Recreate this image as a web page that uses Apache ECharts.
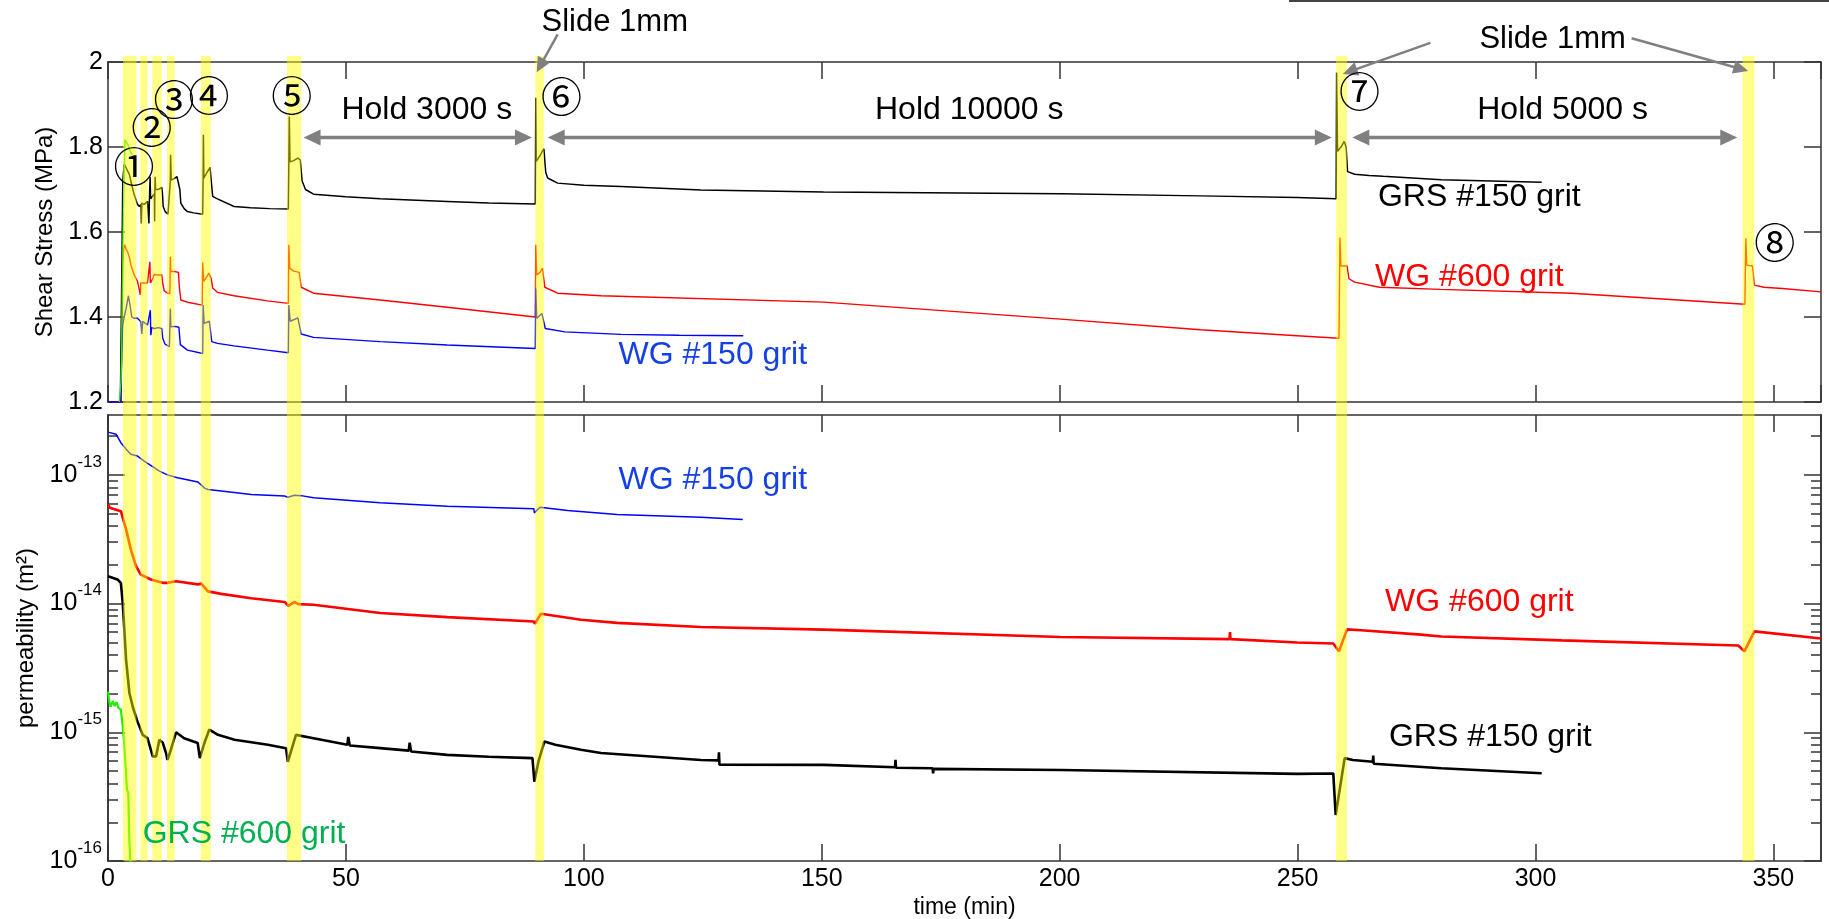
<!DOCTYPE html>
<html><head><meta charset="utf-8">
<script src="https://cdn.jsdelivr.net/npm/echarts@6.0.0/dist/echarts.min.js"></script>
<style>html,body{margin:0;padding:0;background:#fff;}#c{width:1829px;height:919px;}</style>
</head><body><div id="c"></div>
<script>
// ---------------- DATA (time in min) ----------------
const slideBands = [[3.15,6.0],[6.8,8.3],[9.3,11.3],[12.4,14.0],[19.5,21.6],[37.6,40.6],[89.8,91.6],[258.1,260.4],[343.5,346.0]];

// Shear stress (MPa)
const grs150Stress = [[0,1.2],[2.6,1.2],[2.9,1.5],[3.1,1.72],[3.4,1.76],[3.8,1.758],[4.5,1.735],[5.0,1.71],[5.5,1.688],[6.2,1.665],[6.6,1.66],[6.9,1.665],[7.0,1.62],[7.1,1.668],[7.6,1.665],[8.3,1.672],[8.6,1.62],[8.7,1.675],[8.85,1.73],[8.95,1.678],[9.4,1.685],[9.75,1.69],[9.8,1.625],[9.85,1.70],[9.9,1.73],[10.0,1.70],[10.6,1.70],[11.3,1.705],[11.45,1.69],[11.6,1.66],[12.0,1.648],[12.6,1.642],[12.95,1.638],[13.1,1.72],[13.15,1.782],[13.3,1.722],[13.8,1.725],[14.5,1.73],[14.9,1.731],[15.1,1.70],[15.3,1.668],[16.0,1.655],[16.7,1.648],[18.0,1.645],[19.9,1.642],[20.0,1.73],[20.05,1.829],[20.15,1.727],[20.8,1.74],[21.45,1.752],[21.7,1.72],[22.0,1.684],[23.0,1.678],[26.5,1.66],[30.0,1.657],[34.0,1.655],[37.9,1.654],[38.0,1.76],[38.1,1.872],[38.25,1.765],[39.0,1.768],[39.9,1.774],[40.4,1.77],[40.8,1.72],[41.5,1.70],[43.2,1.689],[50,1.683],[57.2,1.678],[71.3,1.672],[80,1.668],[89.8,1.666],[89.9,1.916],[90.0,1.766],[90.8,1.78],[91.6,1.796],[92.0,1.74],[92.4,1.727],[94.5,1.715],[100,1.71],[107.8,1.707],[124.6,1.699],[150.4,1.694],[200.2,1.69],[229.6,1.685],[249.9,1.681],[258.1,1.678],[258.2,1.975],[258.4,1.79],[259.2,1.801],[259.8,1.813],[260.2,1.80],[260.5,1.742],[262,1.736],[265,1.733],[268,1.731],[280.2,1.723],[301.3,1.717]];
const wg600Stress = [[0,1.2],[2.7,1.2],[2.9,1.35],[3.1,1.52],[3.3,1.56],[3.5,1.57],[3.8,1.56],[4.1,1.554],[4.5,1.54],[4.8,1.523],[5.5,1.499],[6.2,1.484],[6.6,1.48],[6.8,1.452],[6.9,1.48],[7.5,1.48],[8.3,1.48],[8.6,1.478],[8.8,1.53],[8.9,1.48],[9.4,1.49],[9.7,1.50],[10.5,1.499],[11.3,1.499],[11.5,1.48],[11.8,1.462],[12.5,1.456],[13.0,1.455],[13.1,1.542],[13.2,1.507],[14.0,1.507],[14.8,1.505],[15.0,1.47],[15.3,1.44],[17,1.434],[19.8,1.428],[19.9,1.528],[20.1,1.484],[20.5,1.49],[21.2,1.503],[21.7,1.49],[22.0,1.468],[23.0,1.458],[26.5,1.45],[33.5,1.438],[37.9,1.432],[38.0,1.57],[38.2,1.515],[39.0,1.508],[39.4,1.512],[40.2,1.505],[40.6,1.47],[43.2,1.456],[57.2,1.44],[71.3,1.423],[89.8,1.40],[89.9,1.57],[90.1,1.499],[90.8,1.505],[91.3,1.515],[91.8,1.47],[94.5,1.456],[103.6,1.45],[150.4,1.435],[200.2,1.395],[229.6,1.37],[249.9,1.356],[258.7,1.35],[258.9,1.587],[259.1,1.52],[259.5,1.522],[260.4,1.52],[260.8,1.49],[262,1.482],[267.2,1.47],[280,1.465],[307.6,1.456],[330,1.44],[344.0,1.43],[344.2,1.585],[344.4,1.522],[345.6,1.52],[346.0,1.475],[348,1.47],[351.9,1.467],[360,1.459]];
const wg150Stress = [[0,1.2],[2.7,1.2],[2.9,1.32],[3.1,1.38],[3.4,1.40],[3.8,1.42],[4.3,1.45],[4.6,1.43],[5.0,1.40],[5.5,1.397],[6.2,1.397],[6.9,1.389],[7.1,1.36],[7.3,1.39],[8.3,1.381],[8.6,1.38],[8.9,1.416],[9.0,1.357],[9.2,1.375],[9.7,1.373],[10.6,1.375],[11.3,1.373],[11.5,1.35],[12.0,1.336],[12.9,1.33],[13.1,1.42],[13.2,1.377],[14.0,1.378],[14.9,1.376],[15.2,1.335],[16.7,1.322],[19.9,1.314],[20.0,1.428],[20.2,1.385],[21.3,1.39],[21.8,1.342],[23.0,1.338],[26.5,1.332],[33.5,1.322],[37.9,1.316],[38.0,1.428],[38.3,1.39],[39.9,1.398],[40.3,1.40],[40.6,1.36],[43.2,1.352],[57.2,1.342],[71.3,1.334],[89.8,1.326],[89.9,1.467],[90.1,1.397],[91.2,1.408],[91.6,1.407],[91.9,1.373],[96,1.365],[107.8,1.359],[120,1.357],[133.5,1.356]];
const grs600Stress = [[2.38,1.2],[2.73,1.247],[2.87,1.31],[3.08,1.53],[3.29,1.68],[3.57,1.817],[4.13,1.806],[4.83,1.786],[5.18,1.782]];

// Permeability (m^2)
const wg150Perm = [[0,2.15e-13],[1.7,2.07e-13],[2.7,1.78e-13],[3.8,1.585e-13],[4.8,1.445e-13],[6.2,1.40e-13],[7.6,1.28e-13],[9.7,1.14e-13],[10.8,1.07e-13],[12.5,1.0e-13],[14.6,9.5e-14],[18.9,8.8e-14],[20.3,7.9e-14],[21.0,7.7e-14],[23.8,7.5e-14],[30.1,7.05e-14],[37.1,6.85e-14],[37.8,6.7e-14],[39.2,6.95e-14],[40.6,6.9e-14],[43.2,6.64e-14],[57.2,6.07e-14],[71.3,5.71e-14],[89.5,5.45e-14],[89.6,5.07e-14],[90.8,5.6e-14],[96.6,5.3e-14],[107,4.93e-14],[124.6,4.68e-14],[133.4,4.5e-14]];
const wg600Perm = [[0,5.9e-14],[0.4,5.55e-14],[2.7,5.22e-14],[3.8,3.77e-14],[4.8,2.63e-14],[5.9,1.95e-14],[6.9,1.68e-14],[9.0,1.54e-14],[11.5,1.45e-14],[12.5,1.45e-14],[14.3,1.49e-14],[18.9,1.41e-14],[19.6,1.43e-14],[21.0,1.245e-14],[23.8,1.19e-14],[30.1,1.10e-14],[37.1,1.03e-14],[37.9,9.6e-15],[39.2,1.03e-14],[40.0,9.9e-15],[43.2,9.8e-15],[57.2,8.45e-15],[71.3,7.85e-15],[89.5,7.25e-15],[89.7,6.97e-15],[91.0,8.35e-15],[99.4,7.5e-15],[107,7.08e-15],[124.6,6.58e-15],[150.4,6.28e-15],[200.2,5.5e-15],[235.7,5.3e-15],[235.8,6.0e-15],[235.9,5.3e-15],[249.9,4.99e-15],[257.5,4.9e-15],[258.7,4.26e-15],[260.4,6.3e-15],[263.4,6.2e-15],[275.9,5.74e-15],[280.2,5.55e-15],[305.5,5.18e-15],[342.6,4.73e-15],[343.9,4.26e-15],[346,6.08e-15],[360,5.36e-15]];
const grs150Perm = [[0,1.63e-14],[2.0,1.54e-14],[2.7,1.45e-14],[3.1,1.01e-14],[3.8,3.66e-15],[4.5,2.02e-15],[5.2,1.58e-15],[6.2,1.21e-15],[7.3,9.55e-16],[8.3,9.0e-16],[8.7,9.3e-16],[9.4,6.5e-16],[10.1,6.5e-16],[10.8,8.75e-16],[11.5,8.3e-16],[12.2,6.9e-16],[12.5,6.1e-16],[13.2,7.3e-16],[14.3,1.0e-15],[16.0,9.0e-16],[18.85,8.25e-16],[19.3,6.3e-16],[20.25,8.25e-16],[21.3,1.05e-15],[23.1,9.55e-16],[26.6,8.75e-16],[33.6,8.0e-16],[37.4,7.53e-16],[37.8,5.9e-16],[39.5,9.55e-16],[43.2,9.0e-16],[50.3,8.0e-16],[50.5,9.2e-16],[50.8,7.9e-16],[57.2,7.53e-16],[63.2,7.2e-16],[63.4,8.3e-16],[63.7,7.1e-16],[71.3,6.68e-16],[80,6.45e-16],[89.2,6.3e-16],[89.6,4.13e-16],[90.5,6.0e-16],[91.7,8.47e-16],[94,8.0e-16],[99.4,7.31e-16],[103.6,6.9e-16],[124.6,6.1e-16],[128.3,6.05e-16],[128.4,7.0e-16],[128.5,5.6e-16],[150.4,5.58e-16],[165.4,5.35e-16],[165.5,6.1e-16],[165.6,5.3e-16],[173.3,5.25e-16],[173.4,4.8e-16],[173.5,5.2e-16],[200.2,5.1e-16],[249.9,4.75e-16],[257.5,4.79e-16],[258.0,2.28e-16],[259.9,6.3e-16],[261.6,6.1e-16],[265.8,5.9e-16],[265.9,6.6e-16],[266.0,5.7e-16],[280.2,5.26e-16],[301.3,4.8e-16]];
const grs600Perm = [[0,2.07e-15],[0.3,1.7e-15],[0.55,1.58e-15],[1.0,1.75e-15],[1.4,1.6e-15],[1.8,1.72e-15],[2.2,1.55e-15],[2.7,1.5e-15],[3.1,1.11e-15],[3.4,8.2e-16],[4.0,3.57e-16],[4.27,3.4e-16],[4.48,1.46e-16],[4.69,1.02e-16],[4.9,8e-17]];

// Axis tick values
const stressTicks = [1.2, 1.4, 1.6, 1.8, 2];
const permDecades = [1e-16, 1e-15, 1e-14, 1e-13];
const permMin = 1e-16, permMax = 2.92e-13;

// Annotations (data units)
const stepMarks = [['①',5.46,1.754],['②',9.18,1.845],['③',13.87,1.911],['④',21.2,1.921],['⑤',38.6,1.921],['⑥',95.3,1.918],['⑦',263,1.930],['⑧',350.3,1.576]];
const holdSpans = [[41.1,89.1,67.0,'Hold 3000 s'],[92.4,257.2,181.0,'Hold 10000 s'],[261.5,342.4,305.7,'Hold 5000 s']];
const holdLevel = 1.8224, holdTextLevel = 1.887;
const slideNotes = [
  {text:'Slide 1mm', at:[106.5,2.094], arrows:[[[94.5,2.065],[90.1,1.976]]]},
  {text:'Slide 1mm', at:[303.6,2.054], arrows:[[[277.9,2.045],[259.5,1.972]],[[320.2,2.056],[344.7,1.979]]]}
];
const stressLabels = [['GRS #150 grit',288.2,1.682,'#000000'],['WG #600 grit',286.1,1.494,'#ff0000'],['WG #150 grit',127.1,1.311,'#1440e6']];
const permLabels = [['WG #150 grit',127.1,9.12e-14,'#1440e6'],['WG #600 grit',288.2,1.03e-14,'#ff0000'],['GRS #150 grit',290.5,9.12e-16,'#000000'],['GRS #600 grit',28.6,1.62e-16,'#00b050']];

// ---------------- CHART ----------------
const FONT = '"Liberation Sans", Arial, Helvetica, sans-serif';
const AXC = '#333333';
const chart = echarts.init(document.getElementById('c'), null, {renderer:'canvas'});

const permMinor = [];
permDecades.forEach(d => { for (let k = 2; k <= 9; k++) { const v = k * d; if (v <= permMax) permMinor.push(v); } });

function xAx(grid, pos, labels) {
  const a = {
    type:'value', gridIndex:grid, position:pos, min:0, max:360, interval:50,
    axisLine:{show:true, onZero:false, lineStyle:{color:AXC, width:1.5}},
    axisTick:{show:true, inside:true, length:17, lineStyle:{color:AXC, width:1.5}},
    axisLabel:{show:labels, fontSize:25, color:'#000', margin:6, fontFamily:FONT, showMaxLabel:false},
    splitLine:{show:false}
  };
  if (labels) {
    a.name = 'time (min)'; a.nameLocation = 'middle'; a.nameGap = 35;
    a.nameTextStyle = {fontSize:23, color:'#000', fontFamily:FONT};
  }
  return a;
}
function stressY(pos, labels) {
  const a = {
    type:'value', gridIndex:0, position:pos, min:1.2, max:2, interval:0.2,
    axisLine:{show:true, onZero:false, lineStyle:{color:AXC, width:1.5}},
    axisTick:{show:true, inside:true, length:17, lineStyle:{color:AXC, width:1.5}},
    axisLabel:{show:labels, fontSize:25, color:'#000', margin:5, fontFamily:FONT},
    splitLine:{show:false}
  };
  if (labels) {
    a.name = 'Shear Stress (MPa)'; a.nameLocation = 'middle'; a.nameGap = 48;
    a.nameTextStyle = {fontSize:24, color:'#000', fontFamily:FONT};
  }
  return a;
}
function permY(pos, major, labels) {
  const a = {
    type:'log', logBase:10, gridIndex:1, position:pos, min:permMin, max:permMax,
    axisLine:{show:true, onZero:false, lineStyle:{color:AXC, width:1.5}},
    axisTick:{show:true, inside:true, length: major ? 17 : 10, customValues: major ? permDecades : permMinor, lineStyle:{color:AXC, width:1.5}},
    axisLabel:{show:labels, customValues: permDecades, margin:6,
      formatter: v => '{b|10}{e|' + Math.round(Math.log10(v)) + '}',
      rich:{ b:{fontSize:25, color:'#000', fontFamily:FONT}, e:{fontSize:17, color:'#000', fontFamily:FONT, padding:[0,0,26,0]} }},
    splitLine:{show:false}, minorTick:{show:false}
  };
  if (labels) {
    a.name = 'permeability (m²)'; a.nameLocation = 'middle'; a.nameGap = 70;
    a.nameTextStyle = {fontSize:24, color:'#000', fontFamily:FONT};
  }
  return a;
}
function lineSeries(name, data, color, xi, yi, width) {
  return {type:'line', name, data, xAxisIndex:xi, yAxisIndex:yi, showSymbol:false, symbol:'none',
    lineStyle:{color, width}, itemStyle:{color}, z:2, clip:true, silent:true, animation:false};
}
const BAND = 'rgba(255,255,0,0.47)';

const option = {
  animation:false, backgroundColor:'#ffffff', textStyle:{fontFamily:FONT},
  grid:[
    {left:108, top:62, width:1713, height:340, containLabel:false, outerBoundsMode:'none'},
    {left:108, top:415, width:1713, height:446, containLabel:false, outerBoundsMode:'none'}
  ],
  xAxis:[xAx(0,'bottom',false), xAx(0,'top',false), xAx(1,'bottom',true), xAx(1,'top',false)],
  yAxis:[stressY('left',true), stressY('right',false),
         permY('left',true,true), permY('left',false,false), permY('right',true,false), permY('right',false,false)],
  series:[
    lineSeries('GRS #150 grit', grs150Stress, '#000000', 0, 0, 1.5),
    lineSeries('WG #600 grit', wg600Stress, '#ff0000', 0, 0, 1.4),
    lineSeries('WG #150 grit', wg150Stress, '#0000ff', 0, 0, 1.4),
    lineSeries('GRS #600 grit', grs600Stress, '#22ee00', 0, 0, 1.4),
    lineSeries('WG #150 grit', wg150Perm, '#0000ff', 2, 2, 1.5),
    lineSeries('WG #600 grit', wg600Perm, '#ff0000', 2, 2, 2.6),
    lineSeries('GRS #150 grit', grs150Perm, '#000000', 2, 2, 2.6),
    lineSeries('GRS #600 grit', grs600Perm, '#22ee00', 2, 2, 2.2),
    {type:'custom', xAxisIndex:0, yAxisIndex:0, z:10, clip:false, silent:true,
      data: slideBands.map(b => [b[0], b[1], 1.6]), encode:{x:[0,1], y:2},
      renderItem:(params, api) => {
        const p0 = api.coord([api.value(0), 2]); const p1 = api.coord([api.value(1), 1.2]);
        return {type:'rect', shape:{x:p0[0], y:p0[1]-6, width:p1[0]-p0[0], height:(p1[1]-p0[1])+6+6.5}, style:{fill:BAND}};
      }},
    {type:'custom', xAxisIndex:2, yAxisIndex:2, z:10, clip:false, silent:true,
      data: slideBands.map(b => [b[0], b[1], 1e-15]), encode:{x:[0,1], y:2},
      renderItem:(params, api) => {
        const p0 = api.coord([api.value(0), permMax]); const p1 = api.coord([api.value(1), permMin]);
        return {type:'rect', shape:{x:p0[0], y:p0[1]-6.5, width:p1[0]-p0[0], height:(p1[1]-p0[1])+6.5}, style:{fill:BAND}};
      }}
  ]
};
chart.setOption(option);

// ---------------- ANNOTATIONS ----------------
const P = (g, x, y) => chart.convertToPixel({gridIndex:g}, [x, y]);
const ARC = '#808080';
function head(tip, from, len, hw) {
  const dx = tip[0]-from[0], dy = tip[1]-from[1], L = Math.hypot(dx, dy);
  const ux = dx/L, uy = dy/L, bx = tip[0]-ux*len, by = tip[1]-uy*len;
  return {type:'polygon', z:100, silent:true, shape:{points:[[tip[0],tip[1]],[bx-uy*hw, by+ux*hw],[bx+uy*hw, by-ux*hw]]}, style:{fill:ARC}};
}
function shorten(a, b, d) {
  const dx = b[0]-a[0], dy = b[1]-a[1], L = Math.hypot(dx, dy);
  return [b[0]-dx/L*d, b[1]-dy/L*d];
}
const gfx = [];
function txt(x, y, text, size, color, fam) {
  gfx.push({type:'text', z:100, silent:true, x, y, style:{text, fontSize:size, fontFamily:fam || FONT, fill:color, align:'center', verticalAlign:'middle'}});
}
holdSpans.forEach(h => {
  const a = P(0, h[0], holdLevel), b = P(0, h[1], holdLevel);
  const a2 = shorten(b, a, 14), b2 = shorten(a, b, 14);
  gfx.push({type:'line', z:100, silent:true, shape:{x1:a2[0], y1:a2[1], x2:b2[0], y2:b2[1]}, style:{stroke:ARC, lineWidth:3.5}});
  gfx.push(head(a, b, 17, 8)); gfx.push(head(b, a, 17, 8));
  const t = P(0, h[2], holdTextLevel); txt(t[0], t[1], h[3], 32, '#000');
});
slideNotes.forEach(n => {
  const t = P(0, n.at[0], n.at[1]); txt(t[0], t[1], n.text, 31, '#000');
  n.arrows.forEach(ar => {
    const a = P(0, ar[0][0], ar[0][1]), b = P(0, ar[1][0], ar[1][1]);
    const b2 = shorten(a, b, 12);
    gfx.push({type:'line', z:100, silent:true, shape:{x1:a[0], y1:a[1], x2:b2[0], y2:b2[1]}, style:{stroke:ARC, lineWidth:2.5}});
    gfx.push(head(b, a, 15, 7));
  });
});
stepMarks.forEach(m => { const p = P(0, m[1], m[2]); txt(p[0], p[1], m[0], 41, '#000', '"Noto Sans CJK JP", "DejaVu Sans", sans-serif'); });
stressLabels.forEach(l => { const p = P(0, l[1], l[2]); txt(p[0], p[1], l[0], 32, l[3]); });
permLabels.forEach(l => { const p = P(1, l[1], l[2]); txt(p[0], p[1], l[0], 32, l[3]); });
// clipped title rule at the very top right of the original figure
gfx.push({type:'line', z:100, silent:true, shape:{x1:1289, y1:1, x2:1829, y2:1}, style:{stroke:'#444', lineWidth:2}});
chart.setOption({graphic: gfx});
</script></body></html>
